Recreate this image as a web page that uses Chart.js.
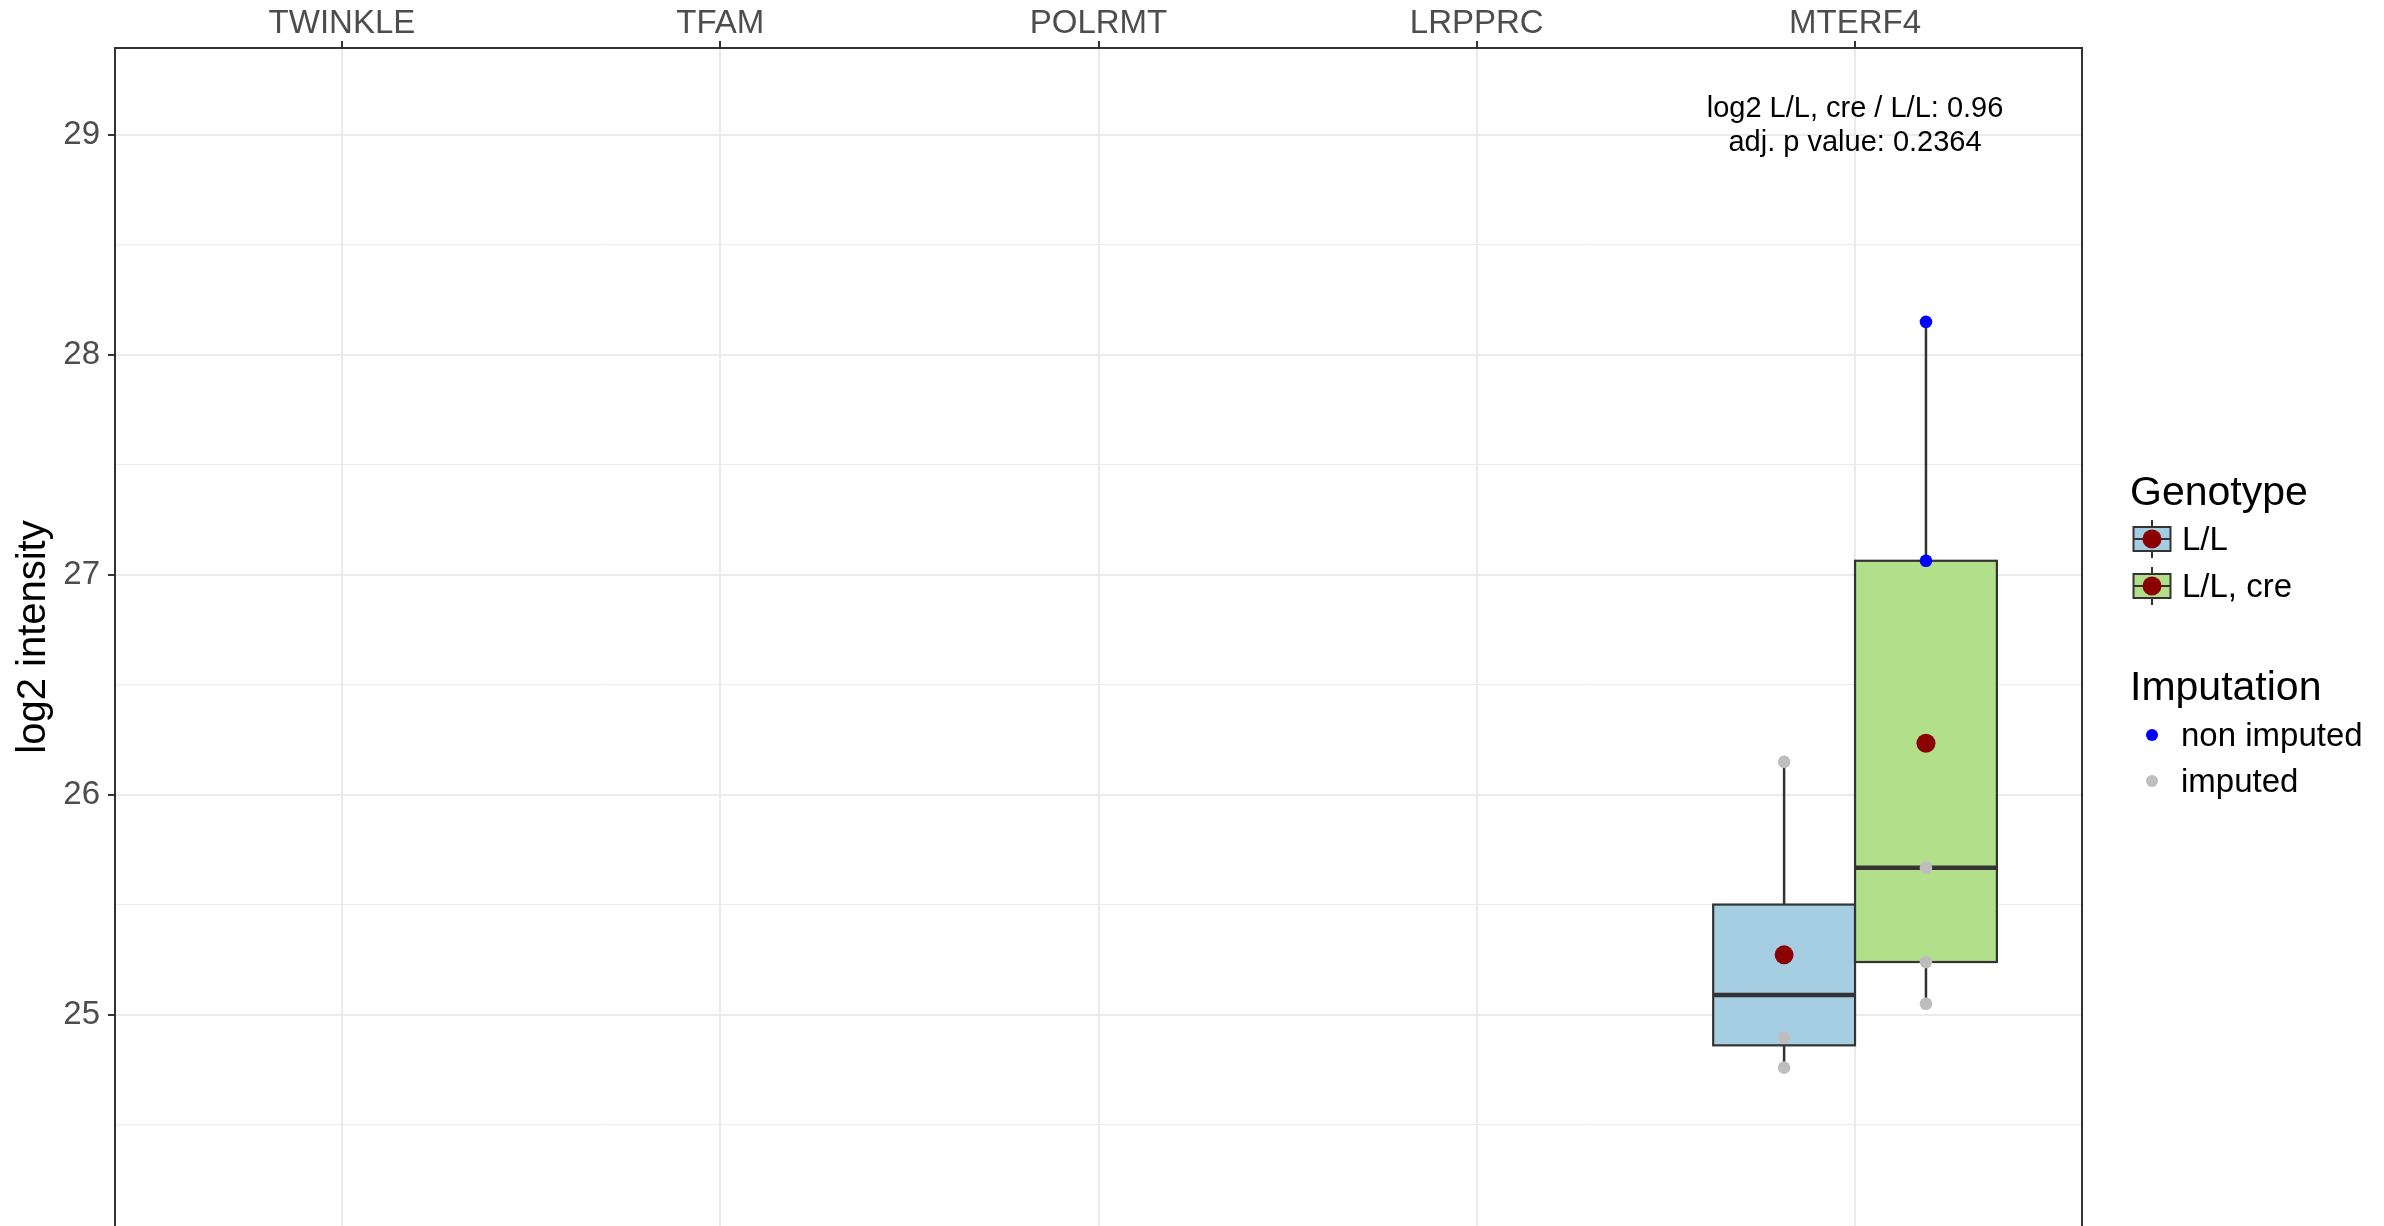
<!DOCTYPE html>
<html>
<head>
<meta charset="utf-8">
<title>MTERF4 log2 intensity</title>
<script src="https://cdn.jsdelivr.net/npm/chart.js@4"></script>
<style>
  html, body { margin: 0; padding: 0; background: #ffffff; }
  canvas { display: block; }
</style>
</head>
<body>
<canvas id="chart-boxplot" width="2384" height="1226"></canvas>
<script>
// ── DATA ────────────────────────────────────────────────────────────────────
const categories = ['TWINKLE', 'TFAM', 'POLRMT', 'LRPPRC', 'MTERF4'];
const genotypes = ['L/L', 'L/L, cre'];
const genotypeColors = ['#a6cee3', '#b2df8a'];
const imputationLabels = ['non imputed', 'imputed'];
const imputationColors = ['#0000ff', '#bebebe'];

// only MTERF4 was measured
const proteinIndex = 4;
const llValues = [26.15, 25.285, 24.895, 24.76];
const llImputed = [true, true, true, true];
const llCreValues = [28.15, 27.064, 25.669, 25.24, 25.05];
const llCreImputed = [false, false, true, true, true];
const adjPValue = 0.2364;

const yMin = 24.04;
const yMax = 29.395;

// ── STATS ───────────────────────────────────────────────────────────────────
const FONT = "'Liberation Sans', Arial, Helvetica, sans-serif";
const dodge = 0.75;
const boxWidth = dodge / genotypes.length;

function quantile(sorted, p) {
  const h = (sorted.length - 1) * p;
  const lo = Math.floor(h);
  const hi = Math.min(lo + 1, sorted.length - 1);
  return sorted[lo] + (h - lo) * (sorted[hi] - sorted[lo]);
}

function boxStats(values) {
  const s = [...values].sort((a, b) => a - b);
  const q1 = quantile(s, 0.25), med = quantile(s, 0.5), q3 = quantile(s, 0.75);
  const iqr = q3 - q1;
  const inside = s.filter(v => v >= q1 - 1.5 * iqr && v <= q3 + 1.5 * iqr);
  return {
    q1, med, q3,
    lo: inside[0],
    hi: inside[inside.length - 1],
    mean: s.reduce((a, b) => a + b, 0) / s.length
  };
}

const groups = [
  { values: llValues, imputed: llImputed },
  { values: llCreValues, imputed: llCreImputed }
].map((g, i) => ({
  ...g,
  x: proteinIndex + (i - (genotypes.length - 1) / 2) * boxWidth,
  color: genotypeColors[i],
  stats: boxStats(g.values)
}));

const log2Ratio = groups[1].stats.mean - groups[0].stats.mean;

function pointsWhere(flag) {
  const out = [];
  groups.forEach(g => g.values.forEach((v, j) => {
    if (g.imputed[j] === flag) out.push({ x: g.x, y: v });
  }));
  return out;
}

// ── PLUGINS ─────────────────────────────────────────────────────────────────
const boxPlugin = {
  id: 'boxes',
  beforeDatasetsDraw(chart) {
    const { ctx, scales: { x, y } } = chart;
    ctx.save();
    ctx.strokeStyle = '#333333';
    groups.forEach(g => {
      const st = g.stats;
      const cx = x.getPixelForValue(g.x);
      const left = x.getPixelForValue(g.x - boxWidth / 2);
      const right = x.getPixelForValue(g.x + boxWidth / 2);
      const top = y.getPixelForValue(st.q3);
      const bottom = y.getPixelForValue(st.q1);

      // whiskers
      ctx.lineWidth = 2.5;
      ctx.beginPath();
      ctx.moveTo(cx, y.getPixelForValue(st.hi));
      ctx.lineTo(cx, top);
      ctx.moveTo(cx, bottom);
      ctx.lineTo(cx, y.getPixelForValue(st.lo));
      ctx.stroke();

      // box
      ctx.lineWidth = 2.2;
      ctx.fillStyle = g.color;
      ctx.fillRect(left, top, right - left, bottom - top);
      ctx.strokeRect(left, top, right - left, bottom - top);

      // median
      ctx.lineWidth = 4.5;
      const my = y.getPixelForValue(st.med);
      ctx.beginPath();
      ctx.moveTo(left, my);
      ctx.lineTo(right, my);
      ctx.stroke();
    });
    ctx.restore();
  },
  afterDraw(chart) {
    const { ctx, chartArea: a, scales: { x } } = chart;
    ctx.save();

    // panel frame (bottom runs off the canvas)
    ctx.strokeStyle = '#333333';
    ctx.lineWidth = 2;
    ctx.beginPath();
    ctx.moveTo(a.left, a.bottom + 2);
    ctx.lineTo(a.left, a.top);
    ctx.lineTo(a.right, a.top);
    ctx.lineTo(a.right, a.bottom + 2);
    ctx.stroke();

    // fold change annotation
    const ax = x.getPixelForValue(proteinIndex);
    ctx.fillStyle = '#000000';
    ctx.font = `29px ${FONT}`;
    ctx.textAlign = 'center';
    ctx.textBaseline = 'alphabetic';
    ctx.fillText(`log2 ${genotypes[1]} / ${genotypes[0]}: ${log2Ratio.toFixed(2)}`, ax, a.top + 69);
    ctx.fillText(`adj. p value: ${adjPValue}`, ax, a.top + 103);

    // legend
    const lx = a.right + 48;
    ctx.textAlign = 'left';
    ctx.font = `41px ${FONT}`;
    ctx.fillText('Genotype', lx, 505);
    ctx.fillText('Imputation', lx, 700);

    ctx.font = `33px ${FONT}`;
    ctx.textBaseline = 'middle';
    genotypes.forEach((name, i) => {
      const cy = 539 + i * 47;
      const kx = lx + 22;
      ctx.strokeStyle = '#333333';
      ctx.lineWidth = 2;
      ctx.beginPath();
      ctx.moveTo(kx, cy - 19);
      ctx.lineTo(kx, cy + 19);
      ctx.stroke();
      ctx.fillStyle = genotypeColors[i];
      ctx.fillRect(kx - 18.5, cy - 12, 37, 24);
      ctx.strokeRect(kx - 18.5, cy - 12, 37, 24);
      ctx.beginPath();
      ctx.moveTo(kx - 18.5, cy);
      ctx.lineTo(kx + 18.5, cy);
      ctx.stroke();
      ctx.fillStyle = '#8b0000';
      ctx.beginPath();
      ctx.arc(kx, cy, 9.5, 0, Math.PI * 2);
      ctx.fill();
      ctx.fillStyle = '#000000';
      ctx.fillText(name, lx + 52, cy + 2);
    });

    imputationLabels.forEach((name, i) => {
      const cy = 735 + i * 46;
      ctx.fillStyle = imputationColors[i];
      ctx.beginPath();
      ctx.arc(lx + 22, cy, 6, 0, Math.PI * 2);
      ctx.fill();
      ctx.fillStyle = '#000000';
      ctx.fillText(name, lx + 51, cy + 2);
    });
    ctx.restore();
  }
};

// ── CHART ───────────────────────────────────────────────────────────────────
const ctx = document.getElementById('chart-boxplot');
new Chart(ctx.getContext('2d'), {
  type: 'scatter',
  data: {
    datasets: [
      {
        label: 'mean',
        data: groups.map(g => ({ x: g.x, y: g.stats.mean })),
        backgroundColor: '#8b0000', borderWidth: 0, pointRadius: 9.5
      },
      {
        label: imputationLabels[0],
        data: pointsWhere(false),
        backgroundColor: imputationColors[0], borderWidth: 0, pointRadius: 6.3
      },
      {
        label: imputationLabels[1],
        data: pointsWhere(true),
        backgroundColor: imputationColors[1], borderWidth: 0, pointRadius: 6.3
      }
    ]
  },
  options: {
    responsive: false, animation: false, devicePixelRatio: 1,
    layout: { autoPadding: false, padding: { left: 0, top: 0, right: 302, bottom: 0 } },
    plugins: { legend: { display: false }, tooltip: { enabled: false } },
    scales: {
      x: {
        type: 'linear', position: 'top', min: -0.6, max: 4.6,
        afterBuildTicks: s => { s.ticks = categories.map((_, i) => ({ value: i })); },
        afterFit: s => { s.height = 48; s.paddingLeft = 0; s.paddingRight = 0; },
        ticks: {
          callback: v => categories[v], color: '#4d4d4d', autoSkip: false, maxRotation: 0,
          font: { family: FONT, size: 33, lineHeight: 1 }, padding: 1
        },
        grid: { color: '#ebebeb', lineWidth: 2, tickLength: 7, tickColor: '#333333', tickWidth: 2 },
        border: { display: false }
      },
      y: {
        type: 'linear', min: yMin, max: yMax,
        // panel runs to the canvas edge, so drop the label overflow padding
        afterFit: s => { s.width = 115; s.paddingTop = 0; s.paddingBottom = 0; },
        ticks: {
          stepSize: 0.5, includeBounds: false, color: '#4d4d4d', padding: 8,
          font: { family: FONT, size: 33 },
          callback: v => Number.isInteger(v) ? String(v) : ''
        },
        grid: {
          color: '#ebebeb', tickLength: 7, tickWidth: 2,
          lineWidth: c => Number.isInteger(c.tick.value) ? 2 : 1,
          tickColor: c => Number.isInteger(c.tick.value) ? '#333333' : 'rgba(0,0,0,0)'
        },
        border: { display: false },
        title: {
          display: true, text: 'log2 intensity', color: '#000000',
          font: { family: FONT, size: 40 }, padding: { top: 10, bottom: 0 }
        }
      }
    }
  },
  plugins: [boxPlugin]
});
</script>
</body>
</html>
